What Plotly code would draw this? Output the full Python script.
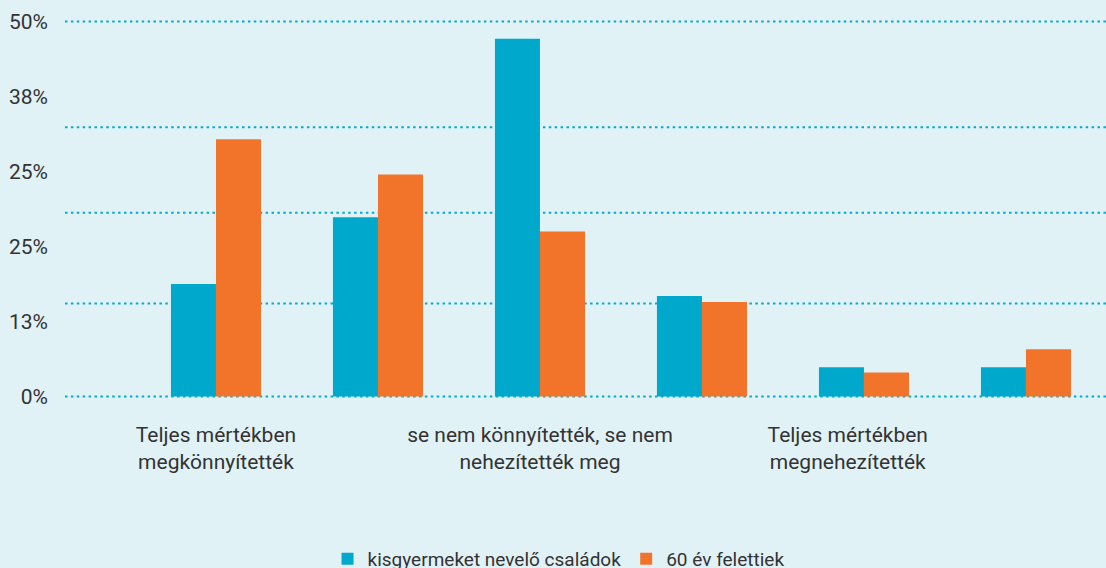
import plotly.graph_objects as go

# Survey answers, shares in percent for the two groups
groups = [
    "Teljes mértékben<br>megkönnyítették",
    "",
    "se nem könnyítették, se nem<br>nehezítették meg",
    "",
    "Teljes mértékben<br>megnehezítették",
    "",
]
series_names = ["kisgyermeket nevelő családok", "60 év felettiek"]
young_families = [15.0, 23.9, 47.7, 13.4, 3.9, 3.9]
over_60 = [34.3, 29.6, 22.0, 12.6, 3.2, 6.3]

# Axis annotation values
y_tick_vals = [0, 10, 20, 30, 40, 50]
y_tick_text = ["0%", "13%", "25%", "25%", "38%", "50%"]
grid_levels = [0, 12.4, 24.5, 35.9, 50]
x_label_positions = [0, 2, 3.9]

BLUE = "#00a9cc"
ORANGE = "#f2742b"
BG = "#e1f2f7"
GRID = "#08a8cb"
TEXT = "#333333"
FONT = "Roboto"

pos = list(range(len(groups)))

fig = go.Figure()
fig.add_trace(go.Bar(x=pos, y=young_families, name=series_names[0],
                     marker=dict(color=BLUE, line=dict(width=0))))
fig.add_trace(go.Bar(x=pos, y=over_60, name=series_names[1],
                     marker=dict(color=ORANGE, line=dict(width=0))))

# dotted horizontal guide lines behind the bars
for lvl in grid_levels:
    fig.add_shape(type="line", xref="paper", x0=0, x1=1, yref="y", y0=lvl, y1=lvl,
                  line=dict(color=GRID, width=2, dash="2.5px,3.4px"), layer="below")

fig.update_layout(
    width=1106, height=568,
    margin=dict(l=65, r=0, t=20, b=170),
    paper_bgcolor=BG, plot_bgcolor=BG,
    barmode="group", bargap=0.444, bargroupgap=0,
    font=dict(family=FONT, color=TEXT, size=20),
    showlegend=True,
    legend=dict(orientation="h", xref="container", yref="container",
                x=0.505, xanchor="center", y=0.016, yanchor="middle",
                font=dict(size=19, family=FONT, color=TEXT),
                bgcolor="rgba(0,0,0,0)", itemclick=False),
    xaxis=dict(range=[-0.932, 5.494], showgrid=False, zeroline=False,
               showline=False, ticks="",
               tickmode="array", tickvals=x_label_positions,
               ticktext=[groups[0], groups[2], groups[4]],
               tickfont=dict(size=21, family=FONT, color=TEXT),
               ticklabelstandoff=22),
    yaxis=dict(range=[-0.2, 50.2], showgrid=False, zeroline=False, showline=False,
               ticks="", tickmode="array", tickvals=y_tick_vals,
               ticktext=y_tick_text, ticklabelstandoff=16,
               tickfont=dict(size=21, family=FONT, color=TEXT)),
)

fig.write_html("out.html")
